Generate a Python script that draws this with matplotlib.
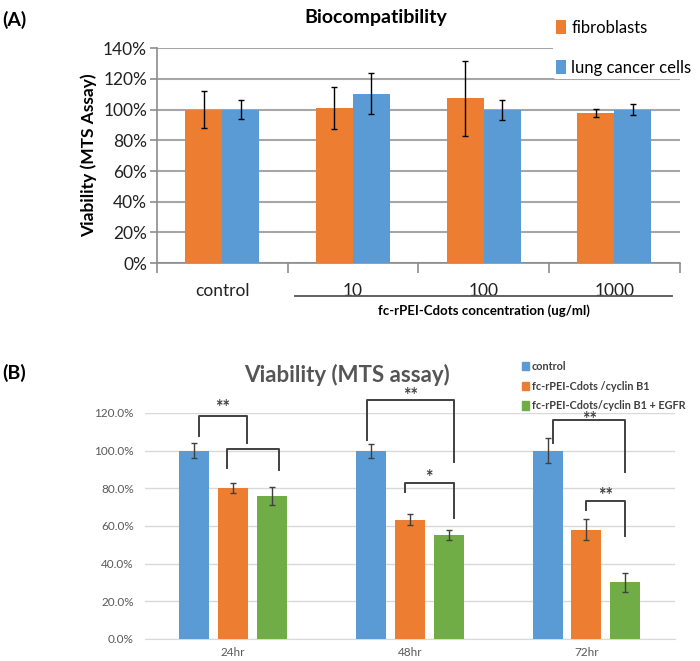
import matplotlib
matplotlib.use("Agg")
import numpy as np
from matplotlib import pyplot as plt
from matplotlib.patches import Patch
from matplotlib import transforms

plt.rcParams["font.family"] = ["Lato", "DejaVu Sans"]

ORANGE = "#ED7D31"
BLUE = "#5B9BD5"
GREEN = "#70AD47"
DARK = "#404040"

# Panel A data
a_categories = ["control", "10", "100", "1000"]
a_fibro = [100, 101, 107.5, 98]
a_fibro_err = [12, 13.5, 24.5, 2.5]
a_lung = [100, 110.5, 100, 100]
a_lung_err = [6, 13.5, 6.5, 3.5]

# Panel B data
b_categories = ["24hr", "48hr", "72hr"]
b_control = [100, 100, 100]
b_control_err = [4, 3.7, 6.7]
b_cyclin = [80, 63.3, 58]
b_cyclin_err = [2.6, 3, 5.6]
b_egfr = [76, 55.3, 30]
b_egfr_err = [4.8, 2.7, 4.9]

# significance brackets: (x_left, x_right, top, left_bottom, right_bottom, label, label_y)
b_brackets = [
    (-0.195, 0.08, 118.2, 107.6, 104.1, "**", 123.0),
    (-0.035, 0.26, 101.1, 91.0, 89.6, "", 0),
    (0.755, 1.25, 126.7, 105.5, 94.0, "**", 129.5),
    (0.97, 1.25, 82.9, 78.2, 64.0, "*", 85.5),
    (1.81, 2.22, 116.1, 104.1, 88.8, "**", 116.5),
    (2.0, 2.22, 73.2, 68.5, 54.9, "**", 76.0),
]

fig = plt.figure(figsize=(7, 6.61), dpi=100)

# ---------------- Panel A ----------------
ax = fig.add_axes([0.224, 0.602, 0.747, 0.325])
x = np.arange(len(a_categories))
w = 0.283
ax.bar(x - w / 2, a_fibro, w, color=ORANGE, label="fibroblasts", zorder=3)
ax.bar(x + w / 2, a_lung, w, color=BLUE, label="lung cancer cells", zorder=3)
ax.errorbar(x - w / 2, a_fibro, yerr=a_fibro_err, fmt="none", ecolor="black",
            elinewidth=1, capsize=2.5, zorder=4)
ax.errorbar(x + w / 2, a_lung, yerr=a_lung_err, fmt="none", ecolor="black",
            elinewidth=1, capsize=2.5, zorder=4)
ax.set_xlim(-0.5, len(a_categories) - 0.5)
ax.set_ylim(0, 140)
ax.set_yticks(np.arange(0, 141, 20))
ax.set_yticklabels([f"{v}%" for v in range(0, 141, 20)], fontsize=12.5, color="#222222")
ax.yaxis.grid(True, color="#a6a6a6", linewidth=1.5, zorder=0)
ax.set_axisbelow(True)
ax.set_xticks(x)
ax.set_xticklabels(a_categories, fontsize=12.5, color="#222222")
ax.tick_params(axis="x", length=0, pad=14)
ax.set_xticks(np.arange(-0.5, len(a_categories)), minor=True)
ax.tick_params(axis="x", which="minor", length=7, width=1.2, color="#8c8c8c")
ax.tick_params(axis="y", length=5, width=1.2, color="#8c8c8c", pad=2)
for s in ["top", "right"]:
    ax.spines[s].set_visible(False)
for s in ["left", "bottom"]:
    ax.spines[s].set_color("#8c8c8c")
    ax.spines[s].set_linewidth(1.2)
ax.set_ylabel("Viability (MTS Assay)", fontsize=12.5, fontweight="bold", labelpad=4)
trans = transforms.blended_transform_factory(ax.transData, ax.transAxes)
ax.plot([0.555, 3.44], [-0.153, -0.153], transform=trans, color="#555555",
        linewidth=1.3, clip_on=False)
ax.text(2.0, -0.22, "fc-rPEI-Cdots concentration (ug/ml)", transform=trans,
        ha="center", va="center", fontsize=9.5, fontweight="bold")
leg = ax.legend(loc="upper left", bbox_to_anchor=(0.79, 0.975), bbox_transform=fig.transFigure,
                fontsize=12, frameon=True, facecolor="white", edgecolor="none",
                framealpha=1, handlelength=0.6, handleheight=0.95, handletextpad=0.3,
                labelspacing=1.45, borderpad=0.2, borderaxespad=0)
fig.text(0.537, 0.973, "Biocompatibility", ha="center", va="center",
         fontsize=14, fontweight="bold")
fig.text(0.003, 0.97, "(A)", ha="left", va="center", fontsize=14, fontweight="bold")

# ---------------- Panel B ----------------
bx = fig.add_axes([0.207, 0.0333, 0.757, 0.342])
xb = np.arange(len(b_categories))
bw = 0.17
off = 0.22
bx.bar(xb - off, b_control, bw, color=BLUE, zorder=3)
bx.bar(xb, b_cyclin, bw, color=ORANGE, zorder=3)
bx.bar(xb + off, b_egfr, bw, color=GREEN, zorder=3)
for xs, vals, errs in [(xb - off, b_control, b_control_err), (xb, b_cyclin, b_cyclin_err),
                       (xb + off, b_egfr, b_egfr_err)]:
    bx.errorbar(xs, vals, yerr=errs, fmt="none", ecolor="#404040", elinewidth=1,
                capsize=2.5, zorder=4)
bx.set_xlim(-0.5, len(b_categories) - 0.5)
bx.set_ylim(0, 120)
bx.set_yticks(np.arange(0, 121, 20))
bx.set_yticklabels([f"{v:.1f}%" for v in range(0, 121, 20)], fontsize=8.5, color="#595959")
bx.set_xticks(xb)
bx.set_xticklabels(b_categories, fontsize=8.5, color="#595959")
bx.tick_params(axis="both", length=0)
bx.tick_params(axis="y", pad=8)
bx.tick_params(axis="x", pad=6)
bx.yaxis.grid(True, color="#d9d9d9", linewidth=1, zorder=0)
bx.set_axisbelow(True)
for s in ["top", "right", "left"]:
    bx.spines[s].set_visible(False)
bx.spines["bottom"].set_color("#d9d9d9")
for xl, xr, top, lb, rb, lab, ly in b_brackets:
    bx.plot([xl, xl, xr, xr], [lb, top, top, rb], color=DARK, linewidth=1.4,
            clip_on=False, zorder=5)
    if lab:
        bx.text((xl + xr) / 2, ly, lab, ha="center", va="center",
                fontsize=13, fontweight="bold", color=DARK)
fig.text(0.495, 0.433, "Viability (MTS assay)", ha="center", va="center",
         fontsize=16, fontweight="bold", color="#555555")
fig.text(0.003, 0.436, "(B)", ha="left", va="center", fontsize=14, fontweight="bold")
handles = [Patch(color=BLUE), Patch(color=ORANGE), Patch(color=GREEN)]
labels = ["control", "fc-rPEI-Cdots /cyclin B1", "fc-rPEI-Cdots/cyclin B1 + EGFR"]
fig.legend(handles, labels, loc="upper left", bbox_to_anchor=(0.738, 0.462),
           frameon=False, handlelength=0.6, handleheight=0.8,
           handletextpad=0.3, labelspacing=0.8, borderpad=0,
           prop={"weight": "bold", "size": 7.8})
for t in fig.legends[0].get_texts():
    t.set_color(DARK)

fig.savefig("out.png", dpi=100)
